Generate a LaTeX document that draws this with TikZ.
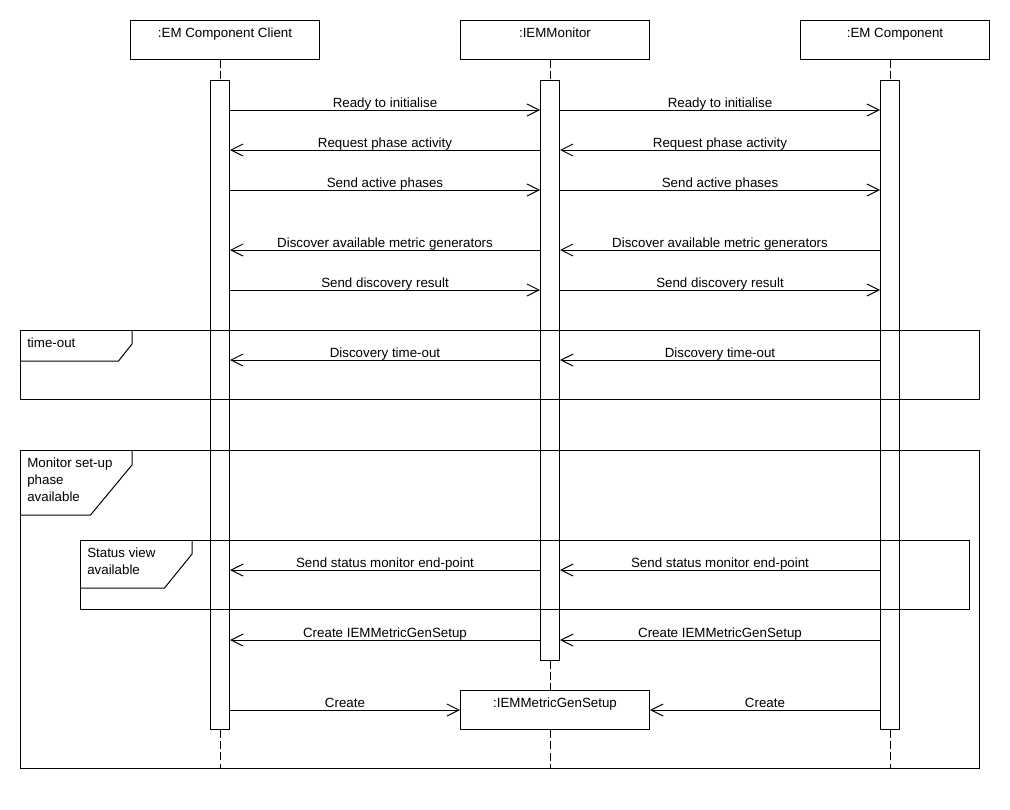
\documentclass[tikz,border=0pt]{standalone}
\usepackage{fontspec}
\setmainfont{Liberation Sans}
\usetikzlibrary{arrows.meta, positioning, fit}

\begin{document}
\begin{tikzpicture}[
    x=0.75pt, y=-0.75pt,
    % Node styles
    every node/.style={font=\fontsize{10}{12.9}\selectfont},
    head/.style={
        draw, line width=0.75pt, fill=white, minimum width=141.75pt,
        text height=12.75pt, text depth=16.5pt, inner ysep=0pt,
        anchor=north
    },
    bar/.style={draw, fill=white, line width=0.75pt, inner sep=0pt},
    lifeline/.style={line width=0.75pt, dash pattern=on 6pt off 2.5pt},
    msg/.style={
        -{Straight Barb[length=9pt, width=9pt]}, line width=0.75pt
    },
    msglabel/.style={anchor=base, yshift=2.25pt, inner sep=0pt},
    frame/.style={draw, line width=0.75pt},
    framelabel/.style={anchor=north west, align=left, inner sep=0pt},
]
\useasboundingbox (0,0) rectangle (1010,810);

% ═══════════════════════════════════════════════════════════════
% Participants
% ═══════════════════════════════════════════════════════════════

\node[head] (client)  at (225,20) {:EM Component Client};
\node[head] (monitor) at (555,20) {:IEMMonitor};
\node[head] (comp)    at (895,20) {:EM Component};

% Activation bars
\node[bar, fit={(210.5,80) (229.5,729)}] (clientbar) {};
\node[bar, fit={(540.5,80) (559.5,660)}] (monbar) {};
\node[bar, fit={(880.5,80) (899.5,729)}] (compbar) {};

% Created participant
\node[head] (setup) at (555,690) {:IEMMetricGenSetup};

% Lifelines
\draw[lifeline] (clientbar.north |- client.south) -- (clientbar.north);
\draw[lifeline] (clientbar.south) -- (clientbar.south |- 0,768);
\draw[lifeline] (monbar.north |- monitor.south) -- (monbar.north);
\draw[lifeline] (monbar.south) -- (monbar.south |- setup.north);
\draw[lifeline] (monbar.south |- setup.south) -- (monbar.south |- 0,768);
\draw[lifeline] (compbar.north |- comp.south) -- (compbar.north);
\draw[lifeline] (compbar.south) -- (compbar.south |- 0,768);

% ═══════════════════════════════════════════════════════════════
% Combined fragments
% ═══════════════════════════════════════════════════════════════

% time-out
\draw[frame] (20,330) rectangle (979,399);
\draw[frame] (20,361) -- (118.5,361) -- (132,344) -- (132,330);
\node[framelabel] (timeoutlbl) at (27,337.5) {time-out};

% Monitor set-up phase available
\draw[frame] (20,450) rectangle (979,768);
\draw[frame] (20,515) -- (90.5,515) -- (132,465) -- (132,450);
\node[framelabel] (setuplbl) at (27,457.5) {Monitor set-up\\phase\\available};

% Status view available
\draw[frame] (80,540) rectangle (969,609);
\draw[frame] (80,588) -- (164.5,588) -- (192,554) -- (192,540);
\node[framelabel] (statuslbl) at (87,547.5) {Status view\\available};

% ═══════════════════════════════════════════════════════════════
% Messages
% ═══════════════════════════════════════════════════════════════

\draw[msg] (clientbar.east |- 0,110) -- node[msglabel] {Ready to initialise} (monbar.west |- 0,110);
\draw[msg] (monbar.east |- 0,110) -- node[msglabel] {Ready to initialise} (compbar.west |- 0,110);

\draw[msg] (monbar.west |- 0,150) -- node[msglabel] {Request phase activity} (clientbar.east |- 0,150);
\draw[msg] (compbar.west |- 0,150) -- node[msglabel] {Request phase activity} (monbar.east |- 0,150);

\draw[msg] (clientbar.east |- 0,190) -- node[msglabel] {Send active phases} (monbar.west |- 0,190);
\draw[msg] (monbar.east |- 0,190) -- node[msglabel] {Send active phases} (compbar.west |- 0,190);

\draw[msg] (monbar.west |- 0,250) -- node[msglabel] {Discover available metric generators} (clientbar.east |- 0,250);
\draw[msg] (compbar.west |- 0,250) -- node[msglabel] {Discover available metric generators} (monbar.east |- 0,250);

\draw[msg] (clientbar.east |- 0,290) -- node[msglabel] {Send discovery result} (monbar.west |- 0,290);
\draw[msg] (monbar.east |- 0,290) -- node[msglabel] {Send discovery result} (compbar.west |- 0,290);

\draw[msg] (monbar.west |- 0,360) -- node[msglabel] {Discovery time-out} (clientbar.east |- 0,360);
\draw[msg] (compbar.west |- 0,360) -- node[msglabel] {Discovery time-out} (monbar.east |- 0,360);

\draw[msg] (monbar.west |- 0,570) -- node[msglabel] {Send status monitor end-point} (clientbar.east |- 0,570);
\draw[msg] (compbar.west |- 0,570) -- node[msglabel] {Send status monitor end-point} (monbar.east |- 0,570);

\draw[msg] (monbar.west |- 0,640) -- node[msglabel] {Create IEMMetricGenSetup} (clientbar.east |- 0,640);
\draw[msg] (compbar.west |- 0,640) -- node[msglabel] {Create IEMMetricGenSetup} (monbar.east |- 0,640);

\draw[msg] (clientbar.east |- 0,710) -- node[msglabel] {Create} (setup.west |- 0,710);
\draw[msg] (compbar.west |- 0,710) -- node[msglabel] {Create} (setup.east |- 0,710);

\end{tikzpicture}
\end{document}
